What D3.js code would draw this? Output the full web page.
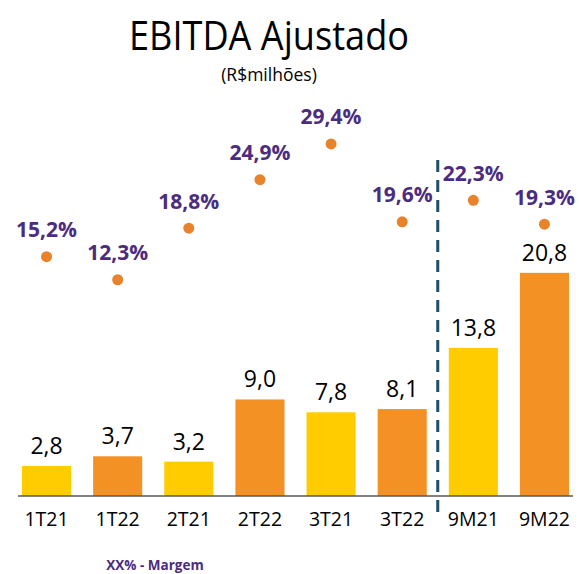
<!DOCTYPE html>
<html>
<head>
<meta charset="utf-8">
<script src="https://cdn.jsdelivr.net/npm/d3@7"></script>
<style>
  body { margin: 0; background: #fff; }
  text { font-family: "Open Sans", sans-serif; }
</style>
</head>
<body>
<div id="chart"></div>
<script>
const categories = ["1T21", "1T22", "2T21", "2T22", "3T21", "3T22", "9M21", "9M22"]
const periodYear = ["2021", "2022", "2021", "2022", "2021", "2022", "2021", "2022"]
const ebitda = [2.8, 3.7, 3.2, 9.0, 7.8, 8.1, 13.8, 20.8]
const margin = [15.2, 12.3, 18.8, 24.9, 29.4, 19.6, 22.3, 19.3]

const W = 579, H = 574
const fmt = v => d3.format(".1f")(v).replace(".", ",")

const svg = d3.select("#chart")
              .append("svg")
              .attr("width", W)
              .attr("height", H)

const x = d3.scaleBand()
            .domain(categories)
            .range([22, 569])
            .paddingInner(0.31)
            .paddingOuter(0)

const y = d3.scaleLinear()
            .domain([0, 20])
            .range([496, 281.4])

const yM = d3.scaleLinear()
             .domain([0, 30])
             .range([377.4, 139.2])

const color = d3.scaleOrdinal()
                .domain(["2021", "2022"])
                .range(["#FFCC00", "#F39125"])

// title
svg.append("text")
   .attr("x", 269).attr("y", 50)
   .attr("text-anchor", "middle")
   .attr("font-size", 41)
   .attr("textLength", 280)
   .attr("lengthAdjust", "spacingAndGlyphs")
   .attr("fill", "#000")
   .text("EBITDA Ajustado")

svg.append("text")
   .attr("x", 269).attr("y", 81)
   .attr("text-anchor", "middle")
   .attr("font-size", 17.5)
   .attr("fill", "#000")
   .text("(R$milhões)")

// bars
svg.selectAll(".bar")
   .data(categories)
   .enter().append("rect")
   .attr("class", "bar")
   .attr("x", d => x(d))
   .attr("width", x.bandwidth())
   .attr("y", (d, i) => y(ebitda[i]))
   .attr("height", (d, i) => y(0) - y(ebitda[i]))
   .attr("fill", (d, i) => color(periodYear[i]))

// bar values
svg.selectAll(".val")
   .data(categories)
   .enter().append("text")
   .attr("class", "val")
   .attr("x", d => x(d) + x.bandwidth() / 2)
   .attr("y", (d, i) => y(ebitda[i]) - 12)
   .attr("text-anchor", "middle")
   .attr("font-size", 23)
   .attr("fill", "#000")
   .text((d, i) => fmt(ebitda[i]))

// baseline axis
const axis = svg.append("g")
                .attr("transform", "translate(0," + y(0) + ")")
                .call(d3.axisBottom(x).tickSize(0).tickPadding(16))
axis.select(".domain")
    .attr("d", "M18,0H573")
    .attr("stroke", "#595959")
    .attr("stroke-width", 1.5)
axis.selectAll(".tick text")
    .attr("font-family", "Open Sans, sans-serif")
    .attr("font-size", 19.5)
    .attr("fill", "#000")

// separator between quarters and 9M
const sepX = x("3T22") + x.bandwidth() + (x.step() - x.bandwidth()) / 2
svg.append("line")
   .attr("x1", sepX).attr("x2", sepX)
   .attr("y1", 160).attr("y2", 512)
   .attr("stroke", "#1F4E69")
   .attr("stroke-width", 3)
   .attr("stroke-dasharray", "12,8")

// margin dots
svg.selectAll(".dot")
   .data(categories)
   .enter().append("circle")
   .attr("class", "dot")
   .attr("cx", d => x(d) + x.bandwidth() / 2)
   .attr("cy", (d, i) => yM(margin[i]))
   .attr("r", 5.5)
   .attr("fill", "#E8822B")

svg.selectAll(".mlab")
   .data(categories)
   .enter().append("text")
   .attr("class", "mlab")
   .attr("x", d => x(d) + x.bandwidth() / 2)
   .attr("y", (d, i) => yM(margin[i]) - 19.5)
   .attr("text-anchor", "middle")
   .attr("font-size", 21)
   .attr("font-weight", "bold")
   .attr("fill", "#4B2C7E")
   .text((d, i) => fmt(margin[i]) + "%")

// legend note
svg.append("text")
   .attr("x", 155).attr("y", 570)
   .attr("text-anchor", "middle")
   .attr("font-size", 13.5)
   .attr("font-weight", "bold")
   .attr("fill", "#4B2C7E")
   .text("XX% - Margem")
</script>
</body>
</html>
